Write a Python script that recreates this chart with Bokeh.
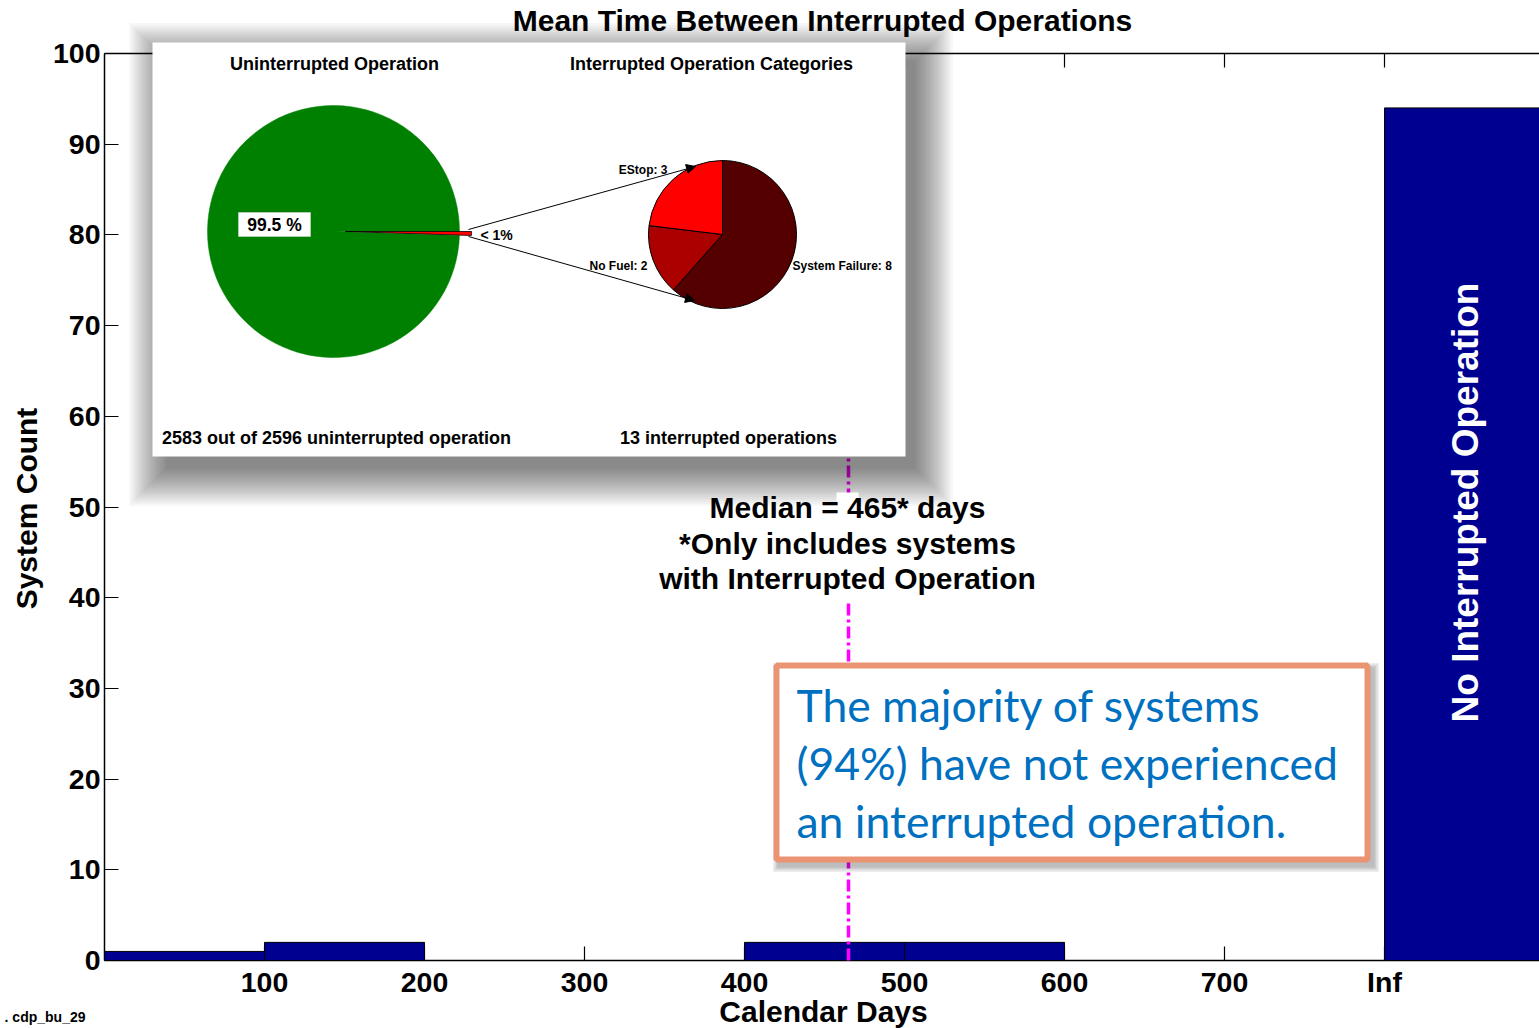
import math
from bokeh.plotting import figure
from bokeh.models import Range1d, Label, Arrow, NormalHead, FixedTicker
from bokeh.embed import file_html
from bokeh.resources import INLINE

# ---------------- data ----------------
bin_left = [0, 100, 200, 300, 400, 500, 600, 700, 800]
bin_right = [100, 200, 300, 400, 500, 600, 700, 800, 900]
bin_counts = [1, 2, 0, 0, 2, 2, 0, 0, 94]
median_days = 465
x_tick_values = [100, 200, 300, 400, 500, 600, 700, 800]
x_tick_labels = ["100", "200", "300", "400", "500", "600", "700", "Inf"]
y_tick_values = [0, 10, 20, 30, 40, 50, 60, 70, 80, 90, 100]

total_systems = 2596
uninterrupted_systems = 2583
interrupted_systems = total_systems - uninterrupted_systems
category_names = ["System Failure", "No Fuel", "EStop"]
category_counts = [8, 2, 3]
category_colors = ["#550000", "#AA0000", "#FF0000"]

title_text = "Mean Time Between Interrupted Operations"
x_label = "Calendar Days"
y_label = "System Count"
inf_bar_text = "No Interrupted Operation"
median_lines = ["Median = %d* days" % median_days, "*Only includes systems", "with Interrupted Operation"]
callout_lines = ["The majority of systems", "(94%) have not experienced", "an interrupted operation."]
footer_text = ". cdp_bu_29"

# ---------------- layout helpers (page pixel -> data) ----------------
W, H = 1539, 1028
PX0, XS = 104.0, 1.6      # page x of data 0, pixels per unit
PY0, YS = 960.0, 9.07     # page y of data 0, pixels per unit


def X(px):
    return (px - PX0) / XS


def Y(py):
    return (PY0 - py) / YS


p = figure(width=W, height=H, output_backend="svg", toolbar_location=None,
           x_range=Range1d(X(0), X(W)), y_range=Range1d(Y(H), Y(0)),
           min_border=0, min_border_left=0, min_border_right=0,
           min_border_top=0, min_border_bottom=0)
p.outline_line_color = None
p.xgrid.visible = False
p.ygrid.visible = False
p.background_fill_color = "white"
p.border_fill_color = "white"

FONT = "Liberation Sans"
XMAX = X(W)

# axes (placed at data 0 inside the frame)
for ax in (p.xaxis[0], p.yaxis[0]):
    ax.fixed_location = 0
    ax.major_tick_in = 14
    ax.major_tick_out = 0
    ax.minor_tick_line_color = None
    ax.axis_line_width = 1.5
    ax.major_tick_line_width = 1.2
    ax.major_label_text_font = FONT
    ax.major_label_text_font_style = "bold"
    ax.major_label_text_font_size = "28.5px"
    ax.major_label_text_color = "black"
    ax.level = "underlay"
p.xaxis[0].ticker = FixedTicker(ticks=x_tick_values)
p.xaxis[0].major_label_overrides = {v: t for v, t in zip(x_tick_values, x_tick_labels)}
p.xaxis[0].major_label_standoff = 5
p.xaxis[0].bounds = (0, XMAX)
p.yaxis[0].ticker = FixedTicker(ticks=y_tick_values)
p.yaxis[0].bounds = (0, 100)
p.yaxis[0].major_label_standoff = 4

# histogram bars
p.quad(left=bin_left, right=bin_right, bottom=[0] * len(bin_counts), top=bin_counts,
       fill_color="#000090", line_color="black", line_width=1)

# top box line and inward ticks
ytop = y_tick_values[-1]
p.segment(x0=[0], y0=[ytop], x1=[XMAX], y1=[ytop], line_color="black", line_width=1.5)
p.segment(x0=x_tick_values, y0=[ytop] * len(x_tick_values), x1=x_tick_values,
          y1=[ytop - 14 / YS] * len(x_tick_values), line_color="black", line_width=1.2)

# median line
p.segment(x0=[median_days], y0=[0], x1=[median_days], y1=[ytop],
          line_color="#FF00FF", line_width=3.5, line_dash="12 4 3 4")

# inset shadow + box
for i in range(18):
    e = 2.2 * i
    p.quad(left=X(152 + 14 - e), right=X(905 + 10 + e), top=Y(42 + 18 - e), bottom=Y(456 + 12 + e),
           fill_color="black", fill_alpha=0.033, line_color=None)
p.quad(left=X(152), right=X(905), top=Y(42), bottom=Y(456), fill_color="white", line_color=None)

# left pie: uninterrupted vs interrupted
small = 2 * math.pi * interrupted_systems / total_systems
p.wedge(x=X(333), y=Y(231), radius=126, radius_units="screen", start_angle=0,
        end_angle=2 * math.pi - small, fill_color="#008000", line_color="#008000", line_width=0.5)
p.wedge(x=X(345), y=Y(231), radius=126, radius_units="screen", start_angle=-small,
        end_angle=0, fill_color="#FF0000", line_color="black", line_width=0.8)

# right pie: categories (clockwise from 12 o'clock)
tot = sum(category_counts)
cum = 0
starts, ends = [], []
for c in category_counts:
    a_before = math.pi / 2 - 2 * math.pi * cum / tot
    cum += c
    a_after = math.pi / 2 - 2 * math.pi * cum / tot
    starts.append(a_after)
    ends.append(a_before)
n_cat = len(category_counts)
p.wedge(x=[X(722)] * n_cat, y=[Y(234)] * n_cat,
        radius=74, radius_units="screen", start_angle=starts, end_angle=ends,
        fill_color=category_colors, line_color="black", line_width=1)

# arrows from sliver to category pie
p.add_layout(Arrow(x_start=X(468), y_start=Y(229), x_end=X(695), y_end=Y(166),
                   line_width=1, line_color="black",
                   end=NormalHead(size=9, fill_color="black", line_color="black")))
p.add_layout(Arrow(x_start=X(468), y_start=Y(236), x_end=X(694), y_end=Y(300),
                   line_width=1, line_color="black",
                   end=NormalHead(size=9, fill_color="black", line_color="black")))

# 99.5 % box
p.quad(left=X(238), right=X(310), top=Y(212), bottom=Y(236), fill_color="white",
       line_color="#dddddd", line_width=0.5)

# callout shadow + box
for i in range(4):
    e = 1.5 * i
    p.quad(left=X(773 + 4 - e), right=X(1370 + 4 + e), top=Y(662 + 5 - e), bottom=Y(862 + 5 + e),
           fill_color="black", fill_alpha=0.07, line_color=None)
p.quad(left=X(776), right=X(1367), top=Y(665), bottom=Y(859), fill_color="white",
       line_color="#EB9473", line_width=6)

# white mask behind the median text
p.quad(left=X(836), right=X(858), top=Y(492), bottom=Y(600), fill_color="white", line_color=None)


def lab(text, px, py, size, color="black", align="center", bold=True, font=FONT, angle=0.0):
    p.add_layout(Label(x=X(px), y=Y(py), text=text, text_font=font,
                       text_font_size="%spx" % size,
                       text_font_style="bold" if bold else "normal",
                       text_color=color, text_align=align, text_baseline="middle",
                       angle=angle))


lab(title_text, 822, 20, 30)
lab(y_label, 26, 508, 30, angle=math.pi / 2)
lab(x_label, 823, 1011, 30)
lab(footer_text, 85, 1016, 14, align="right")

lab("Uninterrupted Operation", 334, 63, 18)
lab("Interrupted Operation Categories", 711, 63, 18)
lab("%d out of %d uninterrupted operation" % (uninterrupted_systems, total_systems), 336, 437, 18)
lab("%d interrupted operations" % interrupted_systems, 728, 437, 18)
lab("%.1f %%" % (100.0 * uninterrupted_systems / total_systems), 274, 224, 17.5)
lab("< 1%", 480, 234, 14, align="left")
lab("%s: %d" % (category_names[2], category_counts[2]), 667, 169, 12, align="right")
lab("%s: %d" % (category_names[1], category_counts[1]), 647, 265, 12, align="right")
lab("%s: %d" % (category_names[0], category_counts[0]), 792, 265, 12, align="left")

for t, yy in zip(median_lines, [507, 543, 578]):
    lab(t, 847, yy, 30)

for t, yy in zip(callout_lines, [704, 762, 820]):
    lab(t, 796, yy, 44.5, color="#0070C0", align="left", bold=False, font="Lato")

lab(inf_bar_text, 1465, 502, 37, color="white", angle=math.pi / 2)

open("out.html", "w").write(file_html(p, INLINE))
